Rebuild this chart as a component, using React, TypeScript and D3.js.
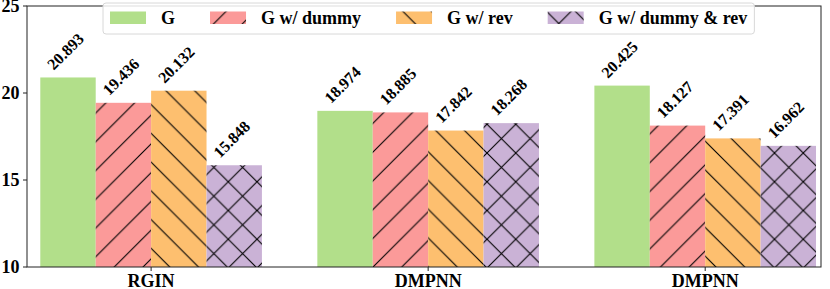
import * as d3 from "d3";
import { useEffect, useRef } from "react";

// chart data
const groups = ["RGIN", "DMPNN", "DMPNN"];
const seriesNames = ["G", "G w/ dummy", "G w/ rev", "G w/ dummy & rev"];
const gValues = [20.893, 18.974, 20.425];
const dummyValues = [19.436, 18.885, 18.127];
const revValues = [20.132, 17.842, 17.391];
const dummyRevValues = [15.848, 18.268, 16.962];
const yTicks = [10, 15, 20, 25];

const colors = ["#b2df8a", "#fb9a99", "#fdbf6f", "#cab2d6"];
const hatches = ["", "/", "\\", "x"];

const FONT = '"Liberation Serif", "Times New Roman", Tinos, "DejaVu Serif", serif';

const App = () => {
  const svgRef = useRef<SVGSVGElement>(null);

  useEffect(() => {
    const svg = d3.select(svgRef.current);
    svg.selectAll("*").remove();

    const W = 830;
    const H = 289;
    const left = 27;
    const right = 821;
    const top = 6;
    const bottom = 267;

    svg.attr("width", W).attr("height", H);

    const seriesValues = [gValues, dummyValues, revValues, dummyRevValues];
    const barW = 0.2;

    const x = d3.scaleLinear().domain([-0.448, 2.418]).range([left, right]);
    const y = d3.scaleLinear().domain([10, 25]).range([bottom, top]);

    // hatch patterns, anchored to the page like matplotlib does
    const p = 28.75;
    const defs = svg.append("defs");
    hatches.forEach((h, j) => {
      if (!h) return;
      const pat = defs
        .append("pattern")
        .attr("id", `hatch-${j}`)
        .attr("patternUnits", "userSpaceOnUse")
        .attr("x", -1.75)
        .attr("y", 9.25)
        .attr("width", p)
        .attr("height", p);
      pat.append("rect").attr("width", p).attr("height", p).attr("fill", colors[j]);
      const fwd = `M0,${p} L${p},0 M${-p / 2},${p / 2} L${p / 2},${-p / 2} M${p / 2},${1.5 * p} L${1.5 * p},${p / 2}`;
      const back = `M0,0 L${p},${p} M${-p / 2},${p / 2} L${p / 2},${1.5 * p} M${p / 2},${-p / 2} L${1.5 * p},${p / 2}`;
      let d = "";
      if (h === "/") d = fwd;
      else if (h === "\\") d = back;
      else d = fwd + " " + back;
      pat
        .append("path")
        .attr("d", d)
        .attr("stroke", "#000")
        .attr("stroke-width", 1.1)
        .attr("fill", "none");
    });
    const fillFor = (j: number) => (hatches[j] ? `url(#hatch-${j})` : colors[j]);

    const txt = (sel: any, size: number) =>
      sel
        .style("font-family", FONT)
        .style("font-weight", "bold")
        .style("font-size", `${size}px`)
        .attr("fill", "#000");

    // bars
    seriesValues.forEach((vals, j) => {
      const off = (j - 1.5) * barW;
      svg
        .append("g")
        .selectAll("rect")
        .data(vals)
        .enter()
        .append("rect")
        .attr("x", (d, i) => x(i + off - barW / 2))
        .attr("width", x(barW) - x(0))
        .attr("y", (d) => y(d))
        .attr("height", (d) => bottom - y(d))
        .attr("fill", fillFor(j));
    });

    // value labels, rotated 45 degrees
    seriesValues.forEach((vals, j) => {
      const off = (j - 1.5) * barW;
      vals.forEach((v, i) => {
        const cx = x(i + off);
        const t = txt(svg.append("text"), 16)
          .attr("text-anchor", "middle")
          .attr("dominant-baseline", "central")
          .text(v.toFixed(3));
        const w = (t.node() as SVGTextElement).getComputedTextLength();
        const D = (w + 18.4) / Math.SQRT2;
        t.attr("transform", `translate(${cx - 2.5},${y(v) - 4 - D / 2}) rotate(-45)`);
      });
    });

    // spines
    const axisColor = "#222";
    svg
      .append("rect")
      .attr("x", left)
      .attr("y", top)
      .attr("width", right - left)
      .attr("height", bottom - top)
      .attr("fill", "none")
      .attr("stroke", axisColor)
      .attr("stroke-width", 1);

    // y ticks
    yTicks.forEach((t) => {
      svg
        .append("line")
        .attr("x1", left - 4)
        .attr("x2", left)
        .attr("y1", y(t))
        .attr("y2", y(t))
        .attr("stroke", axisColor);
      txt(svg.append("text"), 18)
        .attr("x", left - 7.5)
        .attr("y", y(t) + 6)
        .attr("text-anchor", "end")
        .text(t);
    });

    // x ticks
    groups.forEach((g, i) => {
      svg
        .append("line")
        .attr("x1", x(i))
        .attr("x2", x(i))
        .attr("y1", bottom)
        .attr("y2", bottom + 4)
        .attr("stroke", axisColor);
      txt(svg.append("text"), 18)
        .attr("x", x(i))
        .attr("y", 286.5)
        .attr("text-anchor", "middle")
        .text(g);
    });

    // legend
    const legend = svg.append("g");
    const box = legend
      .append("rect")
      .attr("x", 103)
      .attr("y", 3)
      .attr("height", 31)
      .attr("rx", 3)
      .attr("fill", "#fff")
      .attr("fill-opacity", 0.85)
      .attr("stroke", "#d8d8d8")
      .attr("stroke-width", 1);
    let cursor = 110;
    seriesNames.forEach((name, j) => {
      legend
        .append("rect")
        .attr("x", cursor)
        .attr("y", 11.5)
        .attr("width", 36)
        .attr("height", 12.5)
        .attr("fill", fillFor(j));
      const t = txt(legend.append("text"), 18)
        .attr("x", cursor + 51)
        .attr("y", 24)
        .text(name);
      const w = (t.node() as SVGTextElement).getComputedTextLength();
      cursor = cursor + 51 + w + 35;
    });
    box.attr("width", cursor - 35 + 7 - 103);
  }, []);

  return (
    <svg
      ref={svgRef}
      style={{ position: "absolute", left: 0, top: 0, display: "block" }}
    ></svg>
  );
};

export default App;
